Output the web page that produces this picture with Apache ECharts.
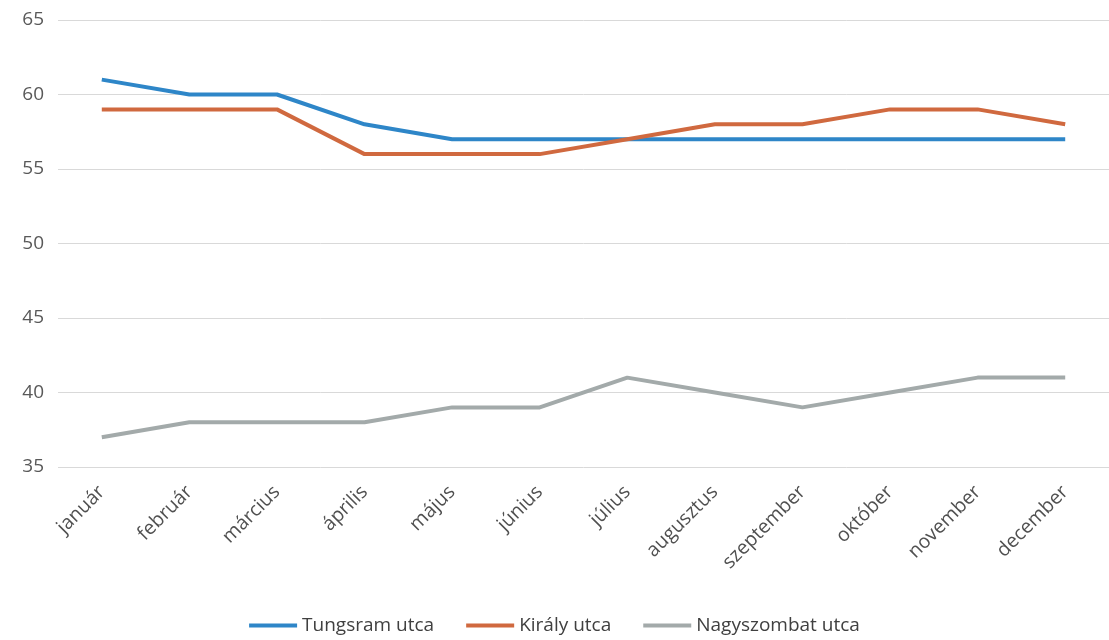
<!DOCTYPE html>
<html>
<head>
<meta charset="utf-8">
<script src="https://cdn.jsdelivr.net/npm/echarts@6/dist/echarts.min.js"></script>
<style>
  html, body { margin: 0; padding: 0; background: #fff; }
  #chart { width: 1109px; height: 640px; }
</style>
</head>
<body>
<div id="chart"></div>
<script>
const months = ['január', 'február', 'március', 'április', 'május', 'június', 'július', 'augusztus', 'szeptember', 'október', 'november', 'december'];
const tungsram = [61, 60, 60, 58, 57, 57, 57, 57, 57, 57, 57, 57];
const kiraly = [59, 59, 59, 56, 56, 56, 57, 58, 58, 59, 59, 58];
const nagyszombat = [37, 38, 38, 38, 39, 39, 41, 40, 39, 40, 41, 41];

const font = '"Open Sans", sans-serif';
const chart = echarts.init(document.getElementById('chart'));

const makeSeries = (name, data, color) => ({
  name,
  type: 'line',
  data,
  symbol: 'none',
  lineStyle: { width: 4, color },
  itemStyle: { color }
});

chart.setOption({
  animation: false,
  textStyle: { fontFamily: font },
  grid: { left: 58, top: 20, width: 1063, height: 447, containLabel: false },
  legend: {
    bottom: 0,
    left: 'center',
    itemWidth: 48,
    itemHeight: 4,
    itemGap: 32,
    icon: 'rect',
    textStyle: { fontSize: 19, color: '#404040', fontFamily: font },
    data: ['Tungsram utca', 'Király utca', 'Nagyszombat utca']
  },
  xAxis: {
    type: 'category',
    data: months,
    boundaryGap: true,
    axisLine: { show: false },
    axisTick: { show: false },
    axisLabel: { rotate: 45, fontSize: 19.5, color: '#505050', margin: 22, interval: 0 }
  },
  yAxis: {
    type: 'value',
    min: 35,
    max: 65,
    interval: 5,
    axisLine: { show: false },
    axisTick: { show: false },
    axisLabel: { fontSize: 19, color: '#595959', margin: 14 },
    splitLine: { lineStyle: { color: '#d9d9d9', width: 1 } }
  },
  series: [
    makeSeries('Tungsram utca', tungsram, '#2e86c8'),
    makeSeries('Király utca', kiraly, '#d0693f'),
    makeSeries('Nagyszombat utca', nagyszombat, '#a3aaaa')
  ]
});
</script>
</body>
</html>
